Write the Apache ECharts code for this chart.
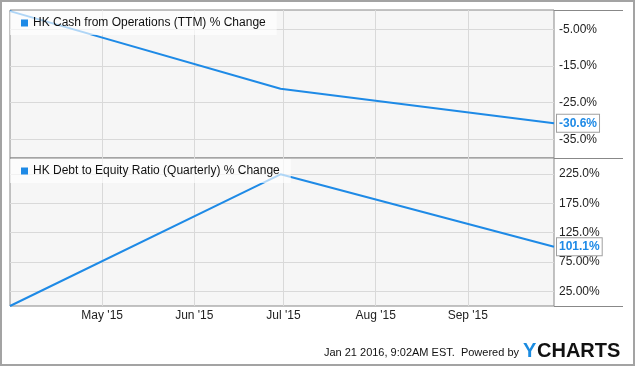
<!DOCTYPE html>
<html><head><meta charset="utf-8">
<script src="https://cdn.jsdelivr.net/npm/echarts@6/dist/echarts.min.js"></script>
<style>
html,body{margin:0;padding:0;background:#fff;}
#w{position:relative;width:635px;height:366px;}
#c{position:absolute;left:0;top:0;width:635px;height:366px;}
#b{position:absolute;left:0;top:0;width:635px;height:366px;box-sizing:border-box;border:2px solid #a3a3a3;pointer-events:none;}
</style></head><body>
<div id="w"><div id="c"></div><div id="b"></div></div>
<script>
// ---- data ----
const dates = ['2015-03-31', '2015-06-30', '2015-09-30'];
const cashOpsChange = [0, -21.2, -30.6];
const debtEquityChange = [0, 224.5, 101.1];
const seriesNames = ['HK Cash from Operations (TTM) % Change', 'HK Debt to Equity Ratio (Quarterly) % Change'];
const monthTicks = ['2015-05-01', '2015-06-01', '2015-07-01', '2015-08-01', '2015-09-01'];
const topTicks = [-5, -15, -25, -35];
const topTickLabels = ['-5.00%', '-15.0%', '-25.0%', '-35.0%'];
const bottomTicks = [25, 75, 125, 175, 225];
const bottomTickLabels = ['25.00%', '75.00%', '125.0%', '175.0%', '225.0%'];
const footerText = 'Jan 21 2016, 9:02AM EST.  Powered by';

const ts = s => Date.UTC(+s.slice(0,4), +s.slice(5,7)-1, +s.slice(8,10));
const mon = ['Jan','Feb','Mar','Apr','May','Jun','Jul','Aug','Sep','Oct','Nov','Dec'];
const fmtMonth = v => { const d = new Date(v); return mon[d.getUTCMonth()] + " '" + String(d.getUTCFullYear()).slice(2); };
const xMin = ts(dates[0]), xMax = ts(dates[dates.length-1]);
const monthVals = monthTicks.map(ts);

const BLUE = '#1e8ae6';
const gridL = 10, gridR = 81, plotRight = 635 - gridR, frameEnd = 623;
const g0Top = 10, gH = 148, g1Top = g0Top + gH;

const chart = echarts.init(document.getElementById('c'), null, {renderer: 'canvas'});
const font = 'Liberation Sans, Arial, sans-serif';

function xAxis(idx, showLabels) {
  return {
    type: 'value', gridIndex: idx, min: xMin, max: xMax,
    axisLine: {show: false}, axisTick: {show: false, customValues: monthVals},
    axisLabel: {show: showLabels, customValues: monthVals, formatter: fmtMonth, color: '#222', fontFamily: font, fontSize: 12, margin: 4},
    splitLine: {show: true, lineStyle: {color: '#d9d9d9', width: 1}}
  };
}
function yAxis(idx, min, max, ticks, labels) {
  return {
    type: 'value', gridIndex: idx, position: 'right', min: min, max: max,
    axisLine: {show: false}, axisTick: {show: false, customValues: ticks},
    axisLabel: {customValues: ticks, color: '#222', fontFamily: font, fontSize: 12, margin: 5,
      formatter: v => labels[ticks.indexOf(v)] ?? ''},
    splitLine: {show: true, lineStyle: {color: '#d9d9d9', width: 1}}
  };
}
function endLbl() {
  return {show: true, formatter: p => p.value[1].toFixed(1) + '%',
    color: BLUE, fontWeight: 'bold', fontFamily: font, fontSize: 12,
    backgroundColor: '#fff', borderColor: '#a0a0a0', borderWidth: 1, padding: [3, 2, 2, 2], distance: 3};
}
function legend(idx, top) {
  return {
    data: [seriesNames[idx]], left: gridL, top: top, orient: 'horizontal',
    icon: 'rect', itemWidth: 7, itemHeight: 7, itemGap: 5,
    padding: [6, 11, 6, 11], backgroundColor: 'rgba(255,255,255,0.65)',
    textStyle: {color: '#111', fontFamily: font, fontSize: 12},
    selectedMode: false, z: 10
  };
}
const hLine = y => ({type: 'line', shape: {x1: plotRight, y1: y, x2: frameEnd, y2: y}, style: {stroke: '#888', lineWidth: 1}, z: 100});

chart.setOption({
  animation: false,
  backgroundColor: '#fff',
  grid: [
    {left: gridL, right: gridR, top: g0Top, height: gH, show: true, backgroundColor: '#f6f6f6', borderColor: '#888', borderWidth: 1},
    {left: gridL, right: gridR, top: g1Top, height: gH, show: true, backgroundColor: '#f6f6f6', borderColor: '#888', borderWidth: 1}
  ],
  legend: [legend(0, 11), legend(1, 159)],
  xAxis: [xAxis(0, false), xAxis(1, true)],
  yAxis: [yAxis(0, -40.1, 0.3, topTicks, topTickLabels), yAxis(1, 0, 252.3, bottomTicks, bottomTickLabels)],
  series: [
    {name: seriesNames[0], type: 'line', xAxisIndex: 0, yAxisIndex: 0, showSymbol: false, symbol: 'none',
     color: BLUE, lineStyle: {width: 2, color: BLUE}, data: dates.map((d, i) => [ts(d), cashOpsChange[i]]), endLabel: endLbl()},
    {name: seriesNames[1], type: 'line', xAxisIndex: 1, yAxisIndex: 1, showSymbol: false, symbol: 'none',
     color: BLUE, lineStyle: {width: 2, color: BLUE}, data: dates.map((d, i) => [ts(d), debtEquityChange[i]]), endLabel: endLbl()}
  ],
  graphic: [
    hLine(g0Top + 0.5), hLine(g1Top + 0.5), hLine(g1Top + gH + 0.5),
    {type: 'text', right: 116, top: 347, style: {text: footerText, fill: '#111', font: '11px ' + font}},
    {type: 'text', left: 523, top: 341, style: {text: 'Y', fill: '#1a8be0', font: 'bold 20px ' + font}},
    {type: 'text', left: 537, top: 341, style: {text: 'CHARTS', fill: '#111', font: 'bold 20px ' + font}}
  ]
});
</script>
</body></html>
